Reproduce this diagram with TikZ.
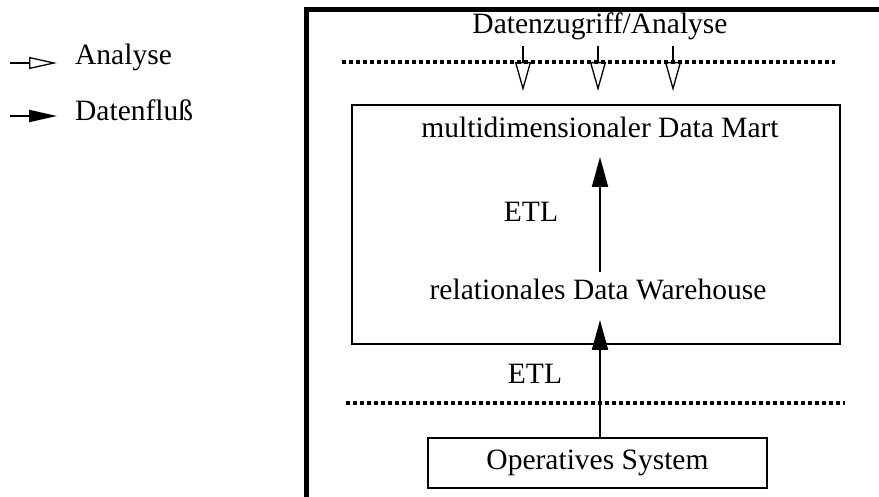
\documentclass[tikz,border=0pt]{standalone}
\usepackage{fontspec}
\setmainfont{Liberation Serif}
\usetikzlibrary{arrows.meta}
\begin{document}
\begin{tikzpicture}[x=1pt,y=-1pt,
  lbl/.style={font=\fontsize{29.5}{34}\selectfont, inner sep=0pt},
  boxline/.style={line width=2pt},
  dotline/.style={line width=3.5pt, dash pattern=on 4pt off 3pt},
  flow/.style={line width=2pt, -{Triangle[length=30pt,width=16pt]}},
  flowleg/.style={line width=2pt, -{Triangle[length=28pt,width=12pt]}},
  ana/.style={line width=1.6pt, -{Triangle[open,length=29pt,width=16pt,line width=1.3pt]}},
  analeg/.style={line width=1.6pt, -{Triangle[open,length=28pt,width=12pt,line width=1.3pt]}},
  frameline/.style={line width=5pt, line join=miter}]
\useasboundingbox (0,0) rectangle (879,497);

% frame
\draw[frameline] (306.5,497) -- (306.5,9.5) -- (879,9.5);

% legend
\coordinate (lg1s) at (10,63);
\coordinate (lg1e) at (57,63);
\coordinate (lg2s) at (10,116);
\coordinate (lg2e) at (57,116);
\draw[analeg] (lg1s) -- (lg1e);
\draw[flowleg] (lg2s) -- (lg2e);
\node[lbl, anchor=west] (lganalyse) at (75,57) {Analyse};
\node[lbl, anchor=west] (lgfluss) at (75,110) {Datenfluß};

% dotted separators
\draw[dotline] (342,62) -- (835,62);
\draw[dotline] (346,403) -- (845,403);

% nodes
\node[lbl] (zugriff) at (600,26) {Datenzugriff/Analyse};
\node[draw, boxline, minimum width=488pt, minimum height=239pt, inner sep=0pt] (dw) at (596,224.5) {};
\node[lbl] (mart) at (600,127) {multidimensionaler Data Mart};
\node[lbl] (wh) at (598,289) {relationales Data Warehouse};
\node[lbl] (etla) at (531,212) {ETL};
\node[lbl] (etlb) at (535,374) {ETL};
\node[draw, boxline, lbl, minimum width=339pt, minimum height=50pt] (os) at (597.5,463) {Operatives System};

% analysis arrows
\foreach \xx/\nn in {523/a, 598/b, 673/c} {
  \coordinate (an\nn s) at (\xx,46);
  \coordinate (an\nn e) at (\xx,91);
  \draw[ana] (an\nn s) -- (an\nn e);
}

% data flow arrows
\coordinate (fl1s) at (600,272);
\coordinate (fl1e) at (600,157);
\draw[flow] (fl1s) -- (fl1e);
\coordinate (fl2e) at (600,320);
\draw[flow] (os.north -| fl2e) -- (fl2e);
\end{tikzpicture}
\end{document}
